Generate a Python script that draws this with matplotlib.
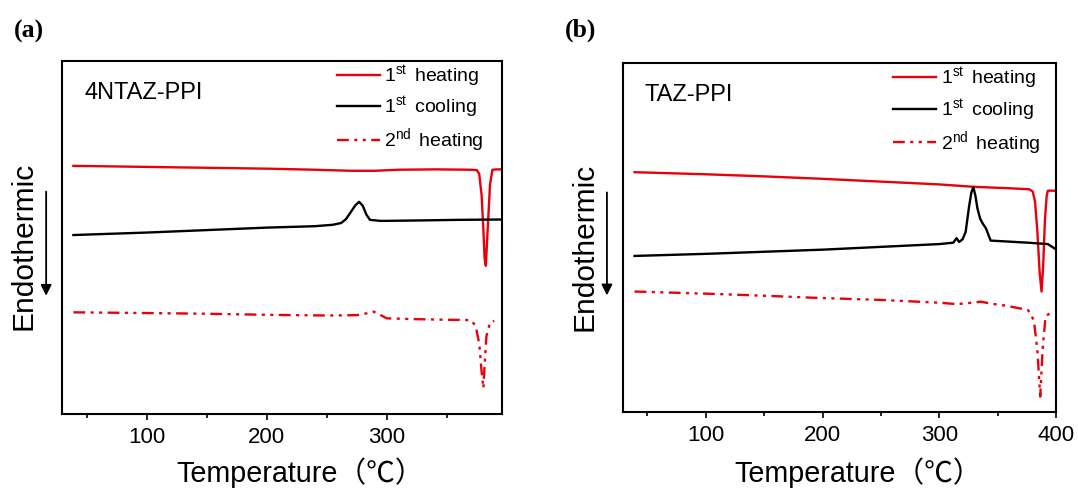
import numpy as np
import matplotlib
matplotlib.use('Agg')
from matplotlib import pyplot as plt

plt.rcParams['font.family'] = ['Liberation Sans', 'Noto Sans CJK SC', 'DejaVu Sans']
plt.rcParams['mathtext.fontset'] = 'custom'
plt.rcParams['mathtext.rm'] = 'Liberation Sans'
plt.rcParams['mathtext.it'] = 'Liberation Sans'

"""Data (DSC traces, arbitrary heat-flow units)
"""
# (a) 4NTAZ-PPI
a_heat1_T = [39, 80, 120, 160, 200, 240, 270, 290, 310, 340, 370, 375, 377, 379, 380.5, 381.5, 382.5, 384, 386, 388, 392, 396]
a_heat1_y = [70.3, 70.1, 69.9, 69.7, 69.5, 69.2, 68.9, 68.9, 69.2, 69.3, 69.2, 69.1, 68.0, 62.0, 52.0, 44.0, 42.0, 52.0, 65.0, 69.2, 69.3, 69.3]

a_cool1_T = [39, 100, 150, 200, 240, 255, 262, 266, 270, 274, 277, 280, 283, 286, 295, 320, 360, 396]
a_cool1_y = [50.7, 51.4, 52.1, 52.8, 53.2, 53.6, 54.1, 55.2, 57.2, 59.2, 60.1, 59.0, 56.5, 55.0, 54.7, 54.8, 55.0, 55.1]

a_heat2_T = [39, 100, 150, 200, 250, 275, 283, 289, 295, 300, 320, 350, 370, 374, 377, 379, 380.5, 381.5, 383, 386, 389.5]
a_heat2_y = [28.8, 28.6, 28.4, 28.1, 27.9, 28.0, 28.5, 29.0, 28.0, 27.1, 26.9, 26.7, 26.6, 25.0, 20.0, 12.0, 7.3, 14.0, 22.0, 25.9, 26.4]

# (b) TAZ-PPI
b_heat1_T = [39, 100, 150, 200, 250, 300, 330, 360, 377, 380, 382, 384, 386, 387.6, 389, 390.5, 392, 393, 400]
b_heat1_y = [68.8, 68.2, 67.6, 66.9, 66.1, 65.3, 64.6, 64.2, 63.9, 63.3, 60.5, 52.0, 40.0, 34.6, 42.0, 55.0, 62.0, 63.5, 63.5]

b_cool1_T = [39, 100, 150, 200, 250, 300, 312, 314.8, 317, 320, 322.6, 325.5, 327.5, 329.2, 331, 332.7, 335, 337, 340, 344, 360, 376, 393, 400]
b_cool1_y = [44.8, 45.4, 46.0, 46.6, 47.4, 48.2, 48.6, 49.9, 48.8, 49.6, 51.7, 58.9, 63.0, 64.5, 62.0, 58.4, 55.5, 54.2, 52.7, 49.2, 48.9, 48.6, 48.2, 46.7]

b_heat2_T = [39, 100, 150, 194, 250, 300, 315, 328, 335.5, 345, 358, 376, 381, 384, 386.5, 388.5, 391, 398]
b_heat2_y = [34.6, 34.0, 33.4, 32.8, 32.2, 31.4, 31.0, 31.4, 31.7, 31.1, 30.5, 29.3, 26.4, 17.9, 4.5, 17.9, 27.4, 29.3]

labels = ['1$^{\\rm st}\\,$ heating', '1$^{\\rm st}\\,$ cooling', '2$^{\\rm nd}\\,$ heating']
sample_names = ['4NTAZ-PPI', 'TAZ-PPI']
panel_tags = ['(a)', '(b)']

"""Plot
"""
RED = '#e8000b'
LW = 1.7
DASH = (5, 2.3, 1.3, 2.3, 1.3, 2.3)

f = plt.figure(figsize=(10.78, 4.9), dpi=100)
ax_a = f.add_axes([0.0575, 0.1551, 0.4082, 0.7204])
ax_b = f.add_axes([0.5775, 0.1586, 0.4021, 0.7122])

panels = [
    (ax_a, (a_heat1_T, a_heat1_y), (a_cool1_T, a_cool1_y), (a_heat2_T, a_heat2_y), (29.5, 396), 0.541, -0.165),
    (ax_b, (b_heat1_T, b_heat1_y), (b_cool1_T, b_cool1_y), (b_heat2_T, b_heat2_y), (28.7, 400), 0.543, -0.172),
]

for i, (ax, h1, c1, h2, xl, xlx, xly) in enumerate(panels):
    ax.plot(h1[0], h1[1], color=RED, lw=LW, label=labels[0])
    ax.plot(c1[0], c1[1], color='k', lw=LW, label=labels[1])
    ax.plot(h2[0], h2[1], color=RED, lw=LW, dashes=DASH, label=labels[2])
    ax.set_xlim(xl)
    ax.set_ylim(0, 100)
    ax.set_xticks([100, 200, 300] if i == 0 else [100, 200, 300, 400])
    ax.set_xticks([50, 150, 250, 350], minor=True)
    ax.set_yticks([])
    ax.tick_params(axis='x', which='major', direction='out', length=4.5, width=1.2,
                   labelsize=16, pad=5)
    ax.tick_params(axis='x', which='minor', direction='out', length=3, width=1.2)
    for s in ax.spines.values():
        s.set_linewidth(1.5)
    ax.text(xlx, xly, 'Temperature（℃）', transform=ax.transAxes, fontsize=20.7,
            ha='center', va='center')
    ax.text(0.051, 0.91, sample_names[i], transform=ax.transAxes, fontsize=17,
            va='center', ha='left')
    ax.text(-0.088, 0.475, 'Endothermic', transform=ax.transAxes, rotation=90,
            fontsize=21.5, va='center', ha='center')
    ax.annotate('', xy=(-0.036, 0.335), xytext=(-0.036, 0.63),
                xycoords='axes fraction', textcoords='axes fraction',
                annotation_clip=False,
                arrowprops=dict(arrowstyle='-|>', color='k', lw=1.3,
                                mutation_scale=16, shrinkA=0, shrinkB=0))
    ax.legend(loc='upper left', bbox_to_anchor=(0.62, 1.0), frameon=False,
              fontsize=14, handlelength=2.2, handletextpad=0.25,
              labelspacing=0.32, borderpad=0.1, borderaxespad=0)

f.text(0.0125, 0.935, panel_tags[0], fontsize=18.5, fontweight='bold',
       family='Liberation Serif', va='center')
f.text(0.524, 0.938, panel_tags[1], fontsize=18.5, fontweight='bold',
       family='Liberation Serif', va='center')

f.savefig('out.png', dpi=100)
